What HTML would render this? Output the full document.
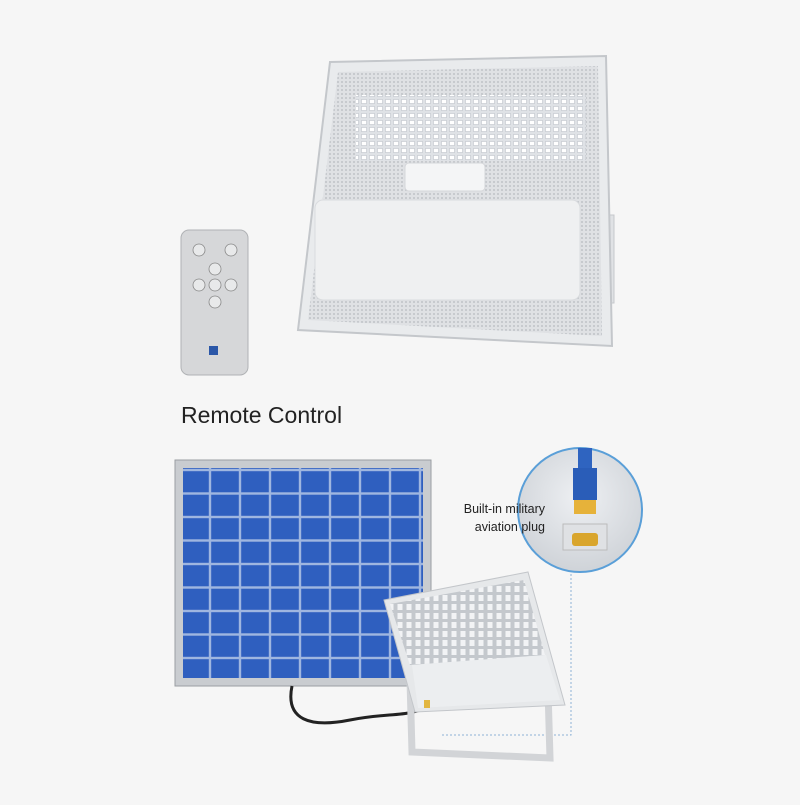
<!DOCTYPE html>
<html><head><style>html,body{margin:0;padding:0;background:#f6f6f6}</style></head><body>
<svg width="800" height="800" viewBox="0 0 800 800" xmlns="http://www.w3.org/2000/svg" font-family="Liberation Sans, sans-serif">
<defs>
<pattern id="mesh" width="4" height="4" patternUnits="userSpaceOnUse"><rect width="4" height="4" fill="#dfe1e4"/><circle cx="2" cy="2" r="1" fill="#bfc3c8"/></pattern>
<pattern id="leds" width="8" height="7" patternUnits="userSpaceOnUse"><rect width="8" height="7" fill="#dfe2e6"/><rect x="1.5" y="1.5" width="5" height="4" fill="#fff" stroke="#b8bcc4" stroke-width="0.5"/></pattern>
<pattern id="fins" width="9" height="9" patternUnits="userSpaceOnUse"><rect width="9" height="9" fill="#c4c8cd"/><rect x="1.5" y="1" width="5" height="6" fill="#f2f3f5"/></pattern>
<pattern id="cells" width="30" height="23.5" patternUnits="userSpaceOnUse"><rect width="30" height="23.5" fill="#9fb6e0"/><rect x="1.2" y="1.2" width="27.6" height="21.1" fill="#2f5fbf"/></pattern>
<radialGradient id="cg" cx="50%" cy="40%" r="60%"><stop offset="0" stop-color="#eef0f3"/><stop offset="1" stop-color="#cfd3d8"/></radialGradient>
</defs>
<rect width="800" height="800" fill="#f6f6f6"/>
<!-- top floodlight -->
<rect x="594" y="215" width="20" height="88" fill="#e0e2e5" stroke="#c5c8cc"/>
<polygon points="330,62 606,56 612,346 298,330" fill="#e9ebed" stroke="#c4c7cb" stroke-width="2"/>
<polygon points="338,72 598,66 602,336 308,320" fill="url(#mesh)"/>
<rect x="356" y="95" width="230" height="66" fill="url(#leds)"/>
<rect x="405" y="163" width="80" height="28" rx="4" fill="#f4f5f6" stroke="#d5d7da"/>
<rect x="315" y="200" width="265" height="100" rx="8" fill="#eff0f1" stroke="#d9dbde"/>
<!-- remote -->
<rect x="181" y="230" width="67" height="145" rx="8" fill="#d6d7d9" stroke="#b0b2b5"/>
<g fill="#e8e9ea" stroke="#888" stroke-width="0.8">
<circle cx="199" cy="250" r="6"/><circle cx="231" cy="250" r="6"/><circle cx="215" cy="269" r="6"/>
<circle cx="199" cy="285" r="6"/><circle cx="215" cy="285" r="6"/><circle cx="231" cy="285" r="6"/><circle cx="215" cy="302" r="6"/></g>
<rect x="209" y="346" width="9" height="9" fill="#2b57a8"/>
<text x="181" y="423" font-size="23" fill="#222">Remote Control</text>
<!-- solar panel -->
<rect x="175" y="460" width="256" height="226" fill="#c9ccd0" stroke="#9a9ea3"/>
<rect x="183" y="468" width="240" height="210" fill="url(#cells)"/>
<!-- cable -->
<path d="M292,686 C285,720 310,728 350,720 C390,712 410,718 430,705" fill="none" stroke="#222" stroke-width="3"/>
<!-- dotted line -->
<path d="M571,570 V735 H440" fill="none" stroke="#8fb3d6" stroke-dasharray="2,2"/>
<!-- second floodlight -->
<polygon points="410,680 548,690 550,758 412,752" fill="none" stroke="#d2d4d7" stroke-width="7"/>
<polygon points="384,600 528,572 565,705 415,712" fill="#e6e8ea" stroke="#c3c6ca"/>
<polygon points="390,604 524,580 545,655 410,665" fill="url(#fins)"/>
<polygon points="412,665 546,655 560,700 418,708" fill="#eceef0"/>
<rect x="424" y="700" width="6" height="8" fill="#e2b640"/>
<!-- circle inset -->
<circle cx="580" cy="510" r="62" fill="url(#cg)" stroke="#5a9fd8" stroke-width="2"/>
<rect x="578" y="448" width="14" height="20" fill="#2f64c0"/>
<rect x="573" y="468" width="24" height="32" fill="#2a5db8"/>
<rect x="574" y="500" width="22" height="14" fill="#e6b23a"/>
<rect x="563" y="524" width="44" height="26" fill="#dfe1e4" stroke="#bbb"/>
<rect x="572" y="533" width="26" height="13" rx="3" fill="#d9a52c"/>
<text x="545" y="513" font-size="12.5" fill="#222" text-anchor="end">Built-in military</text>
<text x="545" y="531" font-size="12.5" fill="#222" text-anchor="end">aviation plug</text>
</svg>
</body></html>
